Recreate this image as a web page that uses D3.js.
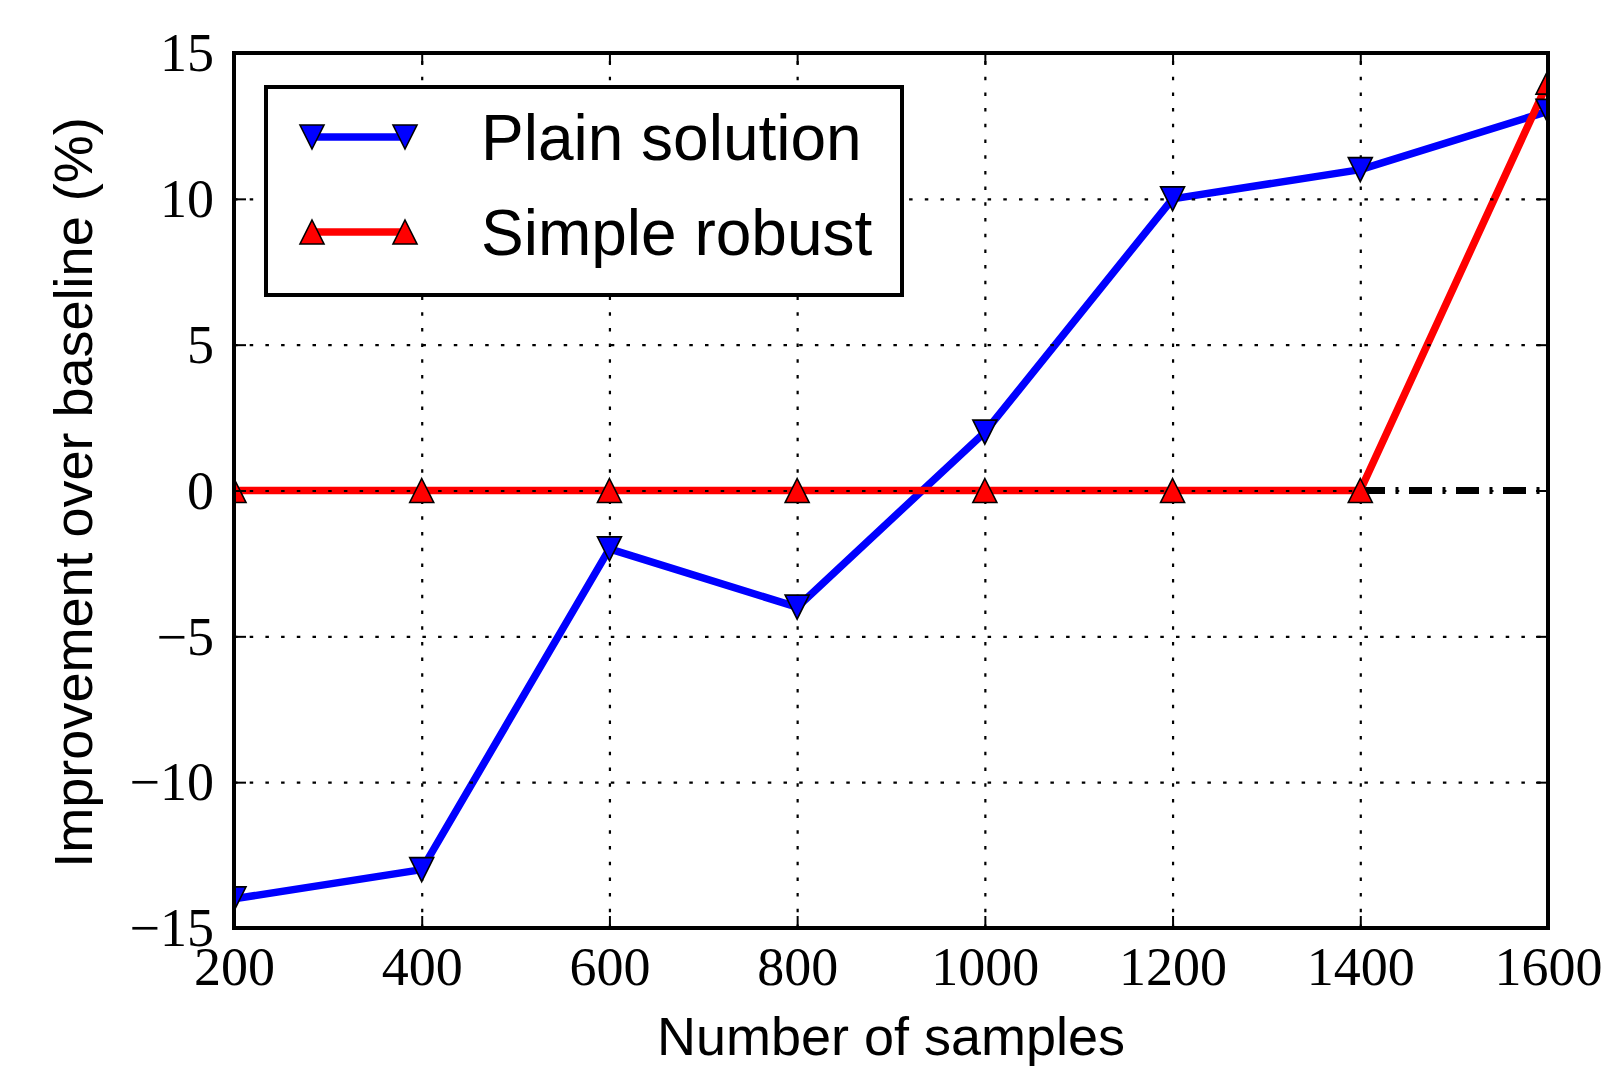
<!DOCTYPE html>
<html>
<head>
<meta charset="utf-8">
<script src="https://cdn.jsdelivr.net/npm/d3@7"></script>
<style>
  html, body { margin: 0; padding: 0; background: #fff; }
  svg { display: block; }
</style>
</head>
<body>
<svg id="chart" width="1602" height="1068"></svg>
<script>
// ---- data ----
const samples = [200, 400, 600, 800, 1000, 1200, 1400, 1600];
const plainSolution = [-14, -13, -2, -4, 2, 10, 11, 13];
const simpleRobust = [0, 0, 0, 0, 0, 0, 0, 14];
const baselineX = [200, 1600];
const baselineY = [0, 0];
const xTickValues = [200, 400, 600, 800, 1000, 1200, 1400, 1600];
const yTickValues = [-15, -10, -5, 0, 5, 10, 15];
const seriesNames = ["Plain solution", "Simple robust"];
const xLabel = "Number of samples";
const yLabel = "Improvement over baseline (%)";

(function () {
// ---- layout ----
const W = 1602, H = 1068;
const m = { left: 234, right: 54, top: 53, bottom: 140 };
const pw = W - m.left - m.right, ph = H - m.top - m.bottom;

const svg = d3.select("#chart");
const x = d3.scaleLinear().domain([200, 1600]).range([m.left, m.left + pw]);
const y = d3.scaleLinear().domain([-15, 15]).range([m.top + ph, m.top]);

const serif = "'Liberation Serif', 'DejaVu Serif', serif";
const sans = "'Liberation Sans', Arial, sans-serif";

svg.append("rect").attr("width", W).attr("height", H).attr("fill", "#fff");

svg.append("defs").append("clipPath").attr("id", "clip")
  .append("rect").attr("x", m.left).attr("y", m.top).attr("width", pw).attr("height", ph);

// triangle marker path (matplotlib-like: width == height)
function tri(size, down) {
  const h = size / 2;
  return down
    ? `M0,${h}L${h},${-h}L${-h},${-h}Z`
    : `M0,${-h}L${h},${h}L${-h},${h}Z`;
}
const MS = 24;
const LW = 7.5;

const plot = svg.append("g").attr("clip-path", "url(#clip)");

// baseline (dash-dot)
const baseData = baselineX.map((v, i) => [v, baselineY[i]]);
const lineGen = d3.line().x(d => x(d[0])).y(d => y(d[1]));
plot.append("path").datum(baseData).attr("d", lineGen)
  .attr("fill", "none").attr("stroke", "#000").attr("stroke-width", 7)
  .attr("stroke-dasharray", "23,10.5,3,10.5");

const plainData = samples.map((s, i) => [s, plainSolution[i]]);
const robustData = samples.map((s, i) => [s, simpleRobust[i]]);

plot.append("path").datum(plainData).attr("d", lineGen)
  .attr("fill", "none").attr("stroke", "#0000ff").attr("stroke-width", LW)
  .attr("stroke-linejoin", "round");
plot.append("path").datum(robustData).attr("d", lineGen)
  .attr("fill", "none").attr("stroke", "#ff0000").attr("stroke-width", LW)
  .attr("stroke-linejoin", "round");

// grid (dotted) drawn above lines
const grid = svg.append("g");
grid.append("g").attr("transform", `translate(0,${m.top + ph})`)
  .call(d3.axisBottom(x).tickValues(xTickValues).tickSize(-ph).tickFormat(""))
  .call(g => g.select(".domain").remove());
grid.append("g").attr("transform", `translate(${m.left},0)`)
  .call(d3.axisLeft(y).tickValues(yTickValues).tickSize(-pw).tickFormat(""))
  .call(g => g.select(".domain").remove());
grid.selectAll("line").attr("stroke", "#000").attr("stroke-width", 2.2)
  .attr("stroke-dasharray", "3.5,12.2");

// markers
const mk = svg.append("g").attr("clip-path", "url(#clip)");
mk.selectAll(".pm").data(plainData).join("path").attr("class", "pm")
  .attr("d", tri(MS, true))
  .attr("transform", d => `translate(${x(d[0])},${y(d[1])})`)
  .attr("fill", "#0000ff").attr("stroke", "#000").attr("stroke-width", 1.6);
mk.selectAll(".rm").data(robustData).join("path").attr("class", "rm")
  .attr("d", tri(MS, false))
  .attr("transform", d => `translate(${x(d[0])},${y(d[1])})`)
  .attr("fill", "#ff0000").attr("stroke", "#000").attr("stroke-width", 1.6);

// axes with inward ticks on all four sides
const TL = 12;
const ax = svg.append("g");
const axBottom = ax.append("g").attr("transform", `translate(0,${m.top + ph})`)
  .call(d3.axisBottom(x).tickValues(xTickValues).tickSizeInner(-TL).tickSizeOuter(0).tickPadding(0)
    .tickFormat(d => String(d)));
axBottom.selectAll("text").attr("y", 57).attr("dy", null);
ax.append("g").attr("transform", `translate(0,${m.top})`)
  .call(d3.axisTop(x).tickValues(xTickValues).tickSizeInner(-TL).tickSizeOuter(0).tickFormat(""));
const axLeft = ax.append("g").attr("transform", `translate(${m.left},0)`)
  .call(d3.axisLeft(y).tickValues(yTickValues).tickSizeInner(-TL).tickSizeOuter(0).tickPadding(0)
    .tickFormat(d => d < 0 ? "\u2212" + Math.abs(d) : String(d)));
axLeft.selectAll("text").attr("x", -20).attr("dy", "0.33em");
ax.append("g").attr("transform", `translate(${m.left + pw},0)`)
  .call(d3.axisRight(y).tickValues(yTickValues).tickSizeInner(-TL).tickSizeOuter(0).tickFormat(""));
ax.selectAll(".domain").remove();
ax.selectAll("line").attr("stroke", "#000").attr("stroke-width", 2);
ax.selectAll("text").attr("font-family", serif).attr("font-size", 54).attr("fill", "#000");

// spines
svg.append("rect").attr("x", m.left).attr("y", m.top).attr("width", pw).attr("height", ph)
  .attr("fill", "none").attr("stroke", "#000").attr("stroke-width", 4);

// axis labels
svg.append("text").attr("x", m.left + pw / 2).attr("y", 1055)
  .attr("text-anchor", "middle").attr("font-family", sans).attr("font-size", 54)
  .text(xLabel);
svg.append("text").attr("transform", `translate(92,${m.top + ph / 2 + 2}) rotate(-90)`)
  .attr("text-anchor", "middle").attr("font-family", sans).attr("font-size", 54)
  .text(yLabel);

// legend
const lg = svg.append("g");
lg.append("rect").attr("x", 266).attr("y", 87).attr("width", 636).attr("height", 208)
  .attr("fill", "#fff").attr("stroke", "#000").attr("stroke-width", 4);
const legendItems = [
  { name: seriesNames[0], color: "#0000ff", down: true, cy: 137, by: 160 },
  { name: seriesNames[1], color: "#ff0000", down: false, cy: 232, by: 255 }
];
legendItems.forEach(it => {
  lg.append("line").attr("x1", 312).attr("x2", 405).attr("y1", it.cy).attr("y2", it.cy)
    .attr("stroke", it.color).attr("stroke-width", LW);
  [312, 405].forEach(px => {
    lg.append("path").attr("d", tri(MS, it.down))
      .attr("transform", `translate(${px},${it.cy})`)
      .attr("fill", it.color).attr("stroke", "#000").attr("stroke-width", 1.6);
  });
  lg.append("text").attr("x", 481).attr("y", it.by)
    .attr("font-family", sans).attr("font-size", 64).attr("fill", "#000")
    .text(it.name);
});
})();
</script>
</body>
</html>
